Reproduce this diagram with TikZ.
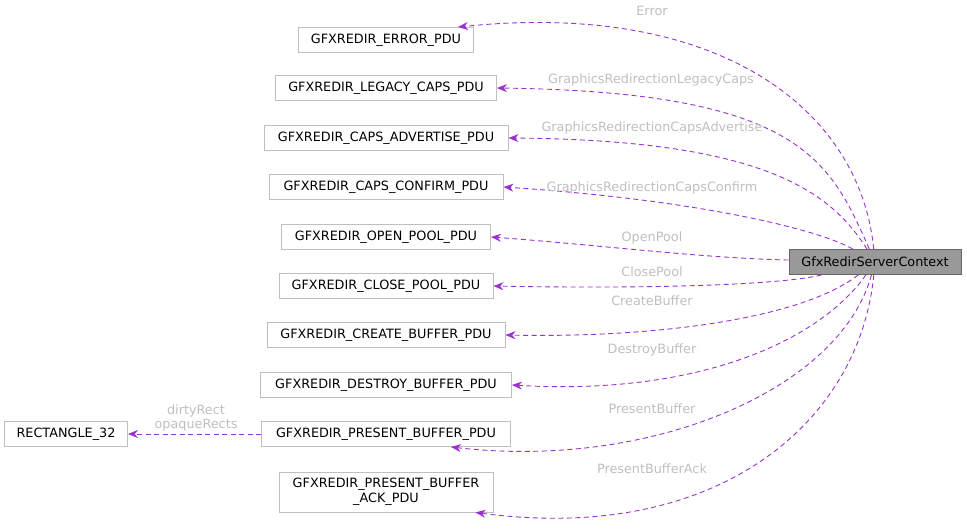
\documentclass[tikz,border=0pt]{standalone}
\usepackage{fontspec}
\setmainfont{DejaVu Sans}
\usetikzlibrary{arrows.meta}
\definecolor{edgec}{HTML}{9A32CD}
\definecolor{labc}{HTML}{BFBFBF}
\definecolor{boxc}{HTML}{BFBFBF}
\tikzset{
  cls/.style={draw=boxc,line width=0.9pt,inner sep=0pt,minimum height=25pt,font=\fontsize{12.8}{15}\selectfont,align=center},
  dep/.style={draw=edgec,line width=0.9pt,dash pattern=on 5pt off 3.5pt,-{Stealth[length=10pt,width=8pt]}},
  lab/.style={text=labc,font=\fontsize{12.8}{14}\selectfont,align=center,inner sep=1pt}
}
\begin{document}
\begin{tikzpicture}[x=1pt,y=-1pt]
  \useasboundingbox (0,0) rectangle (967,528);
  \node[cls,minimum width=172pt,fill=black!40,draw=black!60] (srv) at (875,262) {GfxRedirServerContext};
  \node[cls,minimum width=175pt] (err) at (386,40) {GFXREDIR\_ERROR\_PDU};
  \node[cls,minimum width=221pt] (leg) at (386,88) {GFXREDIR\_LEGACY\_CAPS\_PDU};
  \node[cls,minimum width=244pt] (adv) at (386,138) {GFXREDIR\_CAPS\_ADVERTISE\_PDU};
  \node[cls,minimum width=234pt] (conf) at (386,187) {GFXREDIR\_CAPS\_CONFIRM\_PDU};
  \node[cls,minimum width=209pt] (open) at (386,237) {GFXREDIR\_OPEN\_POOL\_PDU};
  \node[cls,minimum width=214pt] (close) at (386,286) {GFXREDIR\_CLOSE\_POOL\_PDU};
  \node[cls,minimum width=238pt] (create) at (386,335) {GFXREDIR\_CREATE\_BUFFER\_PDU};
  \node[cls,minimum width=251pt] (destroy) at (386,385) {GFXREDIR\_DESTROY\_BUFFER\_PDU};
  \node[cls,minimum width=249pt] (present) at (386,434) {GFXREDIR\_PRESENT\_BUFFER\_PDU};
  \node[cls,minimum width=214pt,minimum height=40pt] (ack) at (386,492) {GFXREDIR\_PRESENT\_BUFFER\\\_ACK\_PDU};
  \node[cls,minimum width=123pt] (rect) at (66,434) {RECTANGLE\_32};
  % connectors
  \draw[dep] (srv) .. controls (860,110) and (720,0) .. ([xshift=-16pt]err.north east);
  \draw[dep] (srv) .. controls (830,160) and (800,92) .. (leg.east);
  \draw[dep] (srv) .. controls (830,190) and (760,140) .. (adv.east);
  \draw[dep] (srv) .. controls (820,230) and (700,200) .. (conf.east);
  \draw[dep] (srv) .. controls (700,258) and (600,245) .. (open.east);
  \draw[dep] (srv) .. controls (780,285) and (650,289) .. (close.east);
  \draw[dep] (srv) .. controls (800,320) and (650,338) .. (create.east);
  \draw[dep] (srv) .. controls (820,340) and (700,396) .. (destroy.east);
  \draw[dep] (srv) .. controls (840,390) and (650,470) .. ([xshift=-60pt]present.south east);
  \draw[dep] (srv) .. controls (860,420) and (720,545) .. ([xshift=-18pt]ack.south east);
  \draw[dep] (present) -- (rect);
  % labels
  \node[lab] at (652,11) {Error};
  \node[lab] at (651,80) {GraphicsRedirectionLegacyCaps};
  \node[lab] at (652,128) {GraphicsRedirectionCapsAdvertise};
  \node[lab] at (652,188) {GraphicsRedirectionCapsConfirm};
  \node[lab] at (652,238) {OpenPool};
  \node[lab] at (652,272) {ClosePool};
  \node[lab] at (652,301) {CreateBuffer};
  \node[lab] at (652,350) {DestroyBuffer};
  \node[lab] at (652,409) {PresentBuffer};
  \node[lab] at (652,469) {PresentBufferAck};
  \node[lab] at (196,418) {dirtyRect\\opaqueRects};
\end{tikzpicture}
\end{document}
